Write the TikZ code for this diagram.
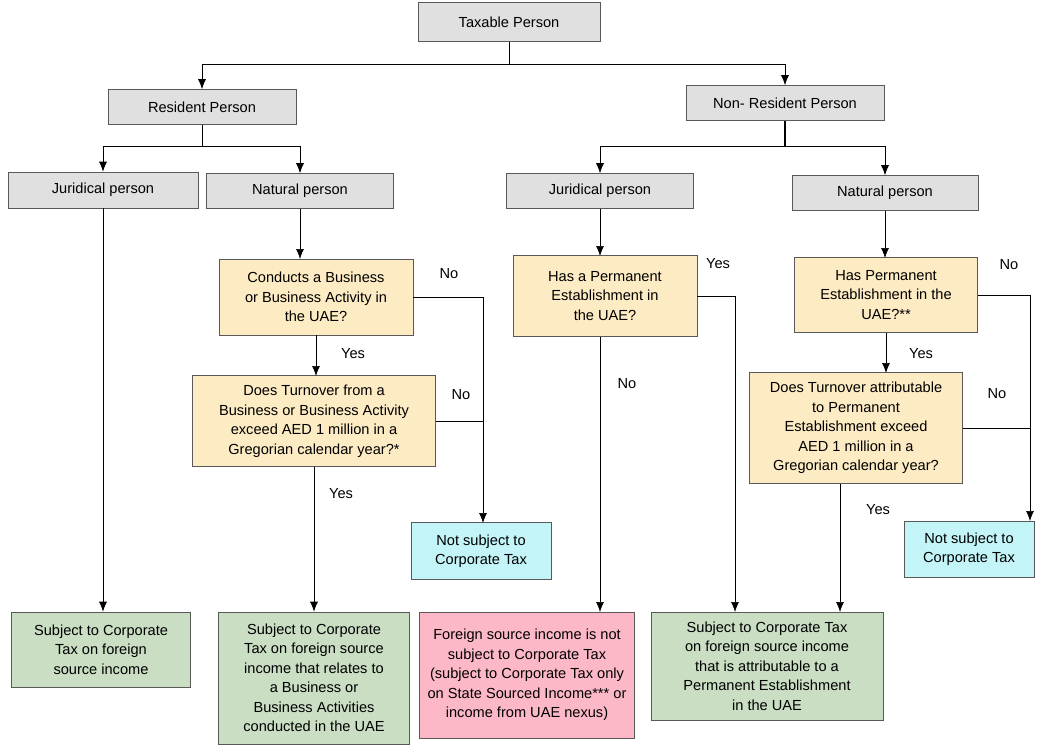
\documentclass[tikz,border=0pt]{standalone}
\usepackage{fontspec}
\setmainfont{Liberation Sans}
\usetikzlibrary{arrows.meta}
\definecolor{gbox}{HTML}{E0E0E0}
\definecolor{ybox}{HTML}{FDEBC3}
\definecolor{cbox}{HTML}{C2F4F8}
\definecolor{grbox}{HTML}{C9DEC3}
\definecolor{pbox}{HTML}{FDB8C8}
\begin{document}
\begin{tikzpicture}[x=1pt,y=-1pt,
 box/.style={draw=gray!70!black,line width=0.6pt,inner sep=2pt,align=center,font=\fontsize{14.6}{19.5}\selectfont},
 bx/.style args={#1,#2,#3}{box,fill=#1,minimum width=#2,minimum height=#3},
 ar/.style={-{Latex[length=10pt,width=8pt]},line width=0.7pt},
 ln/.style={line width=0.7pt},
 lab/.style={font=\fontsize{14.6}{19}\selectfont}]
\useasboundingbox (0,0) rectangle (1052,750);
\node[bx={gbox,182pt,39pt}] (tp) at (509,22) {Taxable Person};
\node[bx={gbox,188pt,35pt}] (rp) at (202,107) {Resident Person};
\node[bx={gbox,198pt,35pt}] (np) at (785,103) {Non- Resident Person};
\node[bx={gbox,190pt,36pt}] (jl) at (103,190) {Juridical person};
\node[bx={gbox,187pt,35pt}] (nl) at (300,191) {Natural person};
\node[bx={gbox,187pt,35pt}] (jm) at (600,191) {Juridical person};
\node[bx={gbox,186pt,35pt}] (nr) at (885,193) {Natural person};
\node[bx={ybox,194pt,76pt}] (cb) at (316,297) {Conducts a Business\\or Business Activity in\\the UAE?};
\node[bx={ybox,243pt,91pt}] (tl) at (314,421) {Does Turnover from a\\Business or Business Activity\\exceed AED 1 million in a\\Gregorian calendar year?*};
\node[bx={ybox,184pt,81pt}] (pm) at (605,296) {Has a Permanent\\Establishment in\\the UAE?};
\node[bx={ybox,183pt,75pt}] (pr) at (886,295) {Has Permanent\\Establishment in the\\UAE?**};
\node[bx={ybox,213pt,111pt}] (tr) at (856,428) {Does Turnover attributable\\to Permanent\\Establishment exceed\\AED 1 million in a\\Gregorian calendar year?};
\node[bx={cbox,140pt,57pt}] (nsl) at (481,551) {Not subject to\\Corporate Tax};
\node[bx={cbox,130pt,56pt}] (nsr) at (969,549) {Not subject to\\Corporate Tax};
\node[bx={grbox,179pt,75pt}] (sl) at (101,649.5) {Subject to Corporate\\Tax on foreign\\source income};
\node[bx={grbox,191pt,132pt}] (sn) at (314,678) {Subject to Corporate\\Tax on foreign source\\income that relates to\\a Business or\\Business Activities\\conducted in the UAE};
\node[bx={pbox,215pt,126pt}] (fs) at (527,675) {Foreign source income is not\\subject to Corporate Tax\\(subject to Corporate Tax only\\on State Sourced Income*** or\\income from UAE nexus)};
\node[bx={grbox,232pt,108pt}] (sr) at (767,666) {Subject to Corporate Tax\\on foreign source income\\that is attributable to a\\Permanent Establishment\\in the UAE};
% top level
\draw[ln] (tp.south) -- (509,64) coordinate (t1);
\draw[ar] (t1) -| (rp.north);
\draw[ar] (t1) -| (np.north);
\draw[ln] (rp.south) -- (202,146) coordinate (r1);
\draw[ar] (r1) -| (jl.north);
\draw[ar] (r1) -| (nl.north);
\draw[line width=1.5pt] (np.south) -- (785,146) coordinate (n1);
\draw[ar] (n1) -| (jm.north);
\draw[ar] (n1) -| (nr.north);
% left
\draw[ar] (jl.south) -- (jl.south |- sl.north);
\draw[ar] (nl.south) -- (300,259);
\draw[ar] (cb.south) -- (316,376);
\node[lab] at (353,354) {Yes};
\draw[ln] (cb.east) -- (483,297) coordinate (c1);
\draw[ar] (c1) -- (483,523);
\node[lab] at (449,274) {No};
\draw[ln] (tl.east) -- (483,421);
\node[lab] at (461,395) {No};
\draw[ar] (tl.south) -- (sn.north);
\node[lab] at (341,494) {Yes};
% middle
\draw[ar] (jm.south) -- (600,256);
\draw[ln] (pm.east) -- (735,296) coordinate (p1);
\draw[ar] (p1) -- (735,612);
\node[lab] at (718,264) {Yes};
\draw[ar] (600,337) -- (600,612);
\node[lab] at (627,384) {No};
% right
\draw[ar] (nr.south) -- (885,258);
\draw[ar] (pr.south) -- (886,373);
\node[lab] at (921,354) {Yes};
\draw[ln] (pr.east) -- (1030,295) coordinate (q1);
\draw[ar] (q1) -- (1030,521);
\node[lab] at (1009,265) {No};
\draw[ln] (tr.east) -- (1030,428);
\node[lab] at (997,394) {No};
\draw[ar] (840,484) -- (840,612);
\node[lab] at (878,510) {Yes};
\end{tikzpicture}
\end{document}
